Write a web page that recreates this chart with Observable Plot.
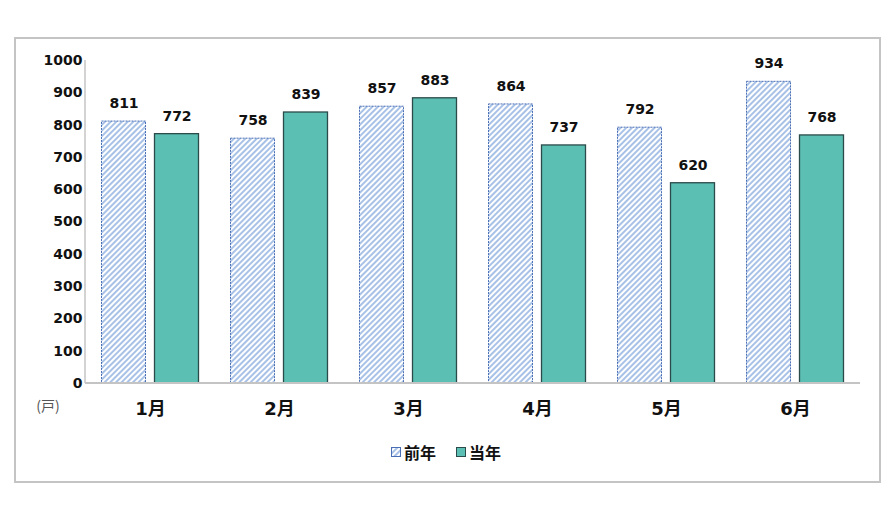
<!DOCTYPE html>
<html>
<head>
<meta charset="utf-8">
<script src="https://cdn.jsdelivr.net/npm/d3@7"></script>
<script src="https://cdn.jsdelivr.net/npm/@observablehq/plot@0.6"></script>
<style>
  html, body { margin: 0; padding: 0; background: #fff; }
  body { width: 892px; height: 524px; position: relative; overflow: hidden; font-family: "DejaVu Sans", "Noto Sans CJK SC", sans-serif; }
  #frame { position: absolute; left: 14px; top: 37px; width: 863px; height: 442px; border: 2px solid #c4c4c4; box-sizing: content-box; }
  #chart { position: absolute; left: 0; top: 0; }
  #legend { position: absolute; left: 0; top: 440px; width: 892px; display: flex; justify-content: center; align-items: center; gap: 0; font-weight: bold; font-size: 16px; color: #111; font-family: "Noto Sans CJK SC", sans-serif; }
  .item { display: flex; align-items: center; margin: 0 10px; }
  .sw { width: 10px; height: 10px; margin-right: 3px; }
</style>
</head>
<body>
<svg width="0" height="0" style="position:absolute">
  <defs>
    <pattern id="hatch" patternUnits="userSpaceOnUse" width="4" height="4" patternTransform="rotate(45)">
      <rect width="4" height="4" fill="#ffffff"></rect>
      <rect width="2" height="4" fill="#a8c1e6"></rect>
    </pattern>
  </defs>
</svg>
<div id="frame"></div>
<div id="chart"></div>
<div id="legend">
  <div class="item"><svg class="sw" width="10" height="10" viewBox="0 0 10 10"><rect x="0.5" y="0.5" width="9" height="9" fill="url(#hatch)" stroke="#4a6fb5" stroke-width="1"></rect></svg>前年</div>
  <div class="item"><svg class="sw" width="10" height="10" viewBox="0 0 10 10"><rect x="0.5" y="0.5" width="9" height="9" fill="#5cbfb3" stroke="#2b4a4a" stroke-width="1"></rect></svg>当年</div>
</div>
<script>
const months = ["1月", "2月", "3月", "4月", "5月", "6月"];
const series = ["前年", "当年"];
const prevYear = [811, 758, 857, 864, 792, 934];
const currYear = [772, 839, 883, 737, 620, 768];
const yTicks = [0, 100, 200, 300, 400, 500, 600, 700, 800, 900, 1000];
const unitLabel = "(戸)";

const data = [];
months.forEach((m, i) => {
  data.push({month: m, series: series[0], value: prevYear[i]});
  data.push({month: m, series: series[1], value: currYear[i]});
});
const prevData = data.filter(d => d.series === series[0]);
const currData = data.filter(d => d.series === series[1]);

const W = 892, H = 430;
const mL = 85, mR = 32, mT = 60, mB = 47;

const plot = Plot.plot({
  width: W,
  height: H,
  marginLeft: mL,
  marginRight: mR,
  marginTop: mT,
  marginBottom: mB,
  style: {fontFamily: "'DejaVu Sans', 'Noto Sans CJK SC', sans-serif", fontSize: "14px", color: "#111", background: "transparent", overflow: "visible"},
  fx: {domain: months, paddingInner: 0.24, paddingOuter: 0.12, label: null, axis: null},
  x: {domain: series, paddingInner: 0.151, paddingOuter: 0, axis: null},
  y: {domain: [0, 1000], axis: null},
  marks: [
    Plot.axisY({ticks: yTicks, tickSize: 0, tickPadding: 19, fontWeight: "bold", fontSize: 14, label: null, tickFormat: d => String(d), facet: "exclude"}),
    Plot.axisFx({anchor: "bottom", tickSize: 0, tickPadding: 19, fontWeight: "bold", fontSize: 18, label: null}),
    Plot.barY(prevData, {fx: "month", x: "series", y: "value", fill: "url(#hatch)", stroke: "#4a6fb5", strokeWidth: 1, strokeDasharray: "2,1", insetLeft: 0.5, insetRight: 0.5}),
    Plot.barY(currData, {fx: "month", x: "series", y: "value", fill: "#5cbfb3", stroke: "#2b4a4a", strokeWidth: 1.3, insetLeft: 0.5, insetRight: 0.5}),
    Plot.text(data, {fx: "month", x: "series", y: "value", text: d => String(d.value), dy: -18, fontWeight: "bold", fontSize: 14, fill: "#111"})
  ]
});

// axis lines drawn with the plot's own y scale
const yScale = plot.scale("y");
const y0 = yScale.apply(0), y1 = yScale.apply(1000);
const svg = d3.select(plot.tagName.toLowerCase() === "svg" ? plot : plot.querySelector("svg"));
svg.append("line").attr("x1", mL).attr("x2", mL).attr("y1", y1).attr("y2", y0).attr("stroke", "#c4c4c4").attr("stroke-width", 1.5);
svg.append("line").attr("x1", mL).attr("x2", W - mR).attr("y1", y0).attr("y2", y0).attr("stroke", "#c4c4c4").attr("stroke-width", 2);
svg.append("text").attr("x", mL - 37).attr("y", y0 + 28).attr("text-anchor", "middle")
  .attr("font-size", 14).attr("fill", "#555").attr("font-family", "'Noto Sans CJK JP', sans-serif").text(unitLabel);

document.getElementById("chart").appendChild(plot);
</script>
</body>
</html>
